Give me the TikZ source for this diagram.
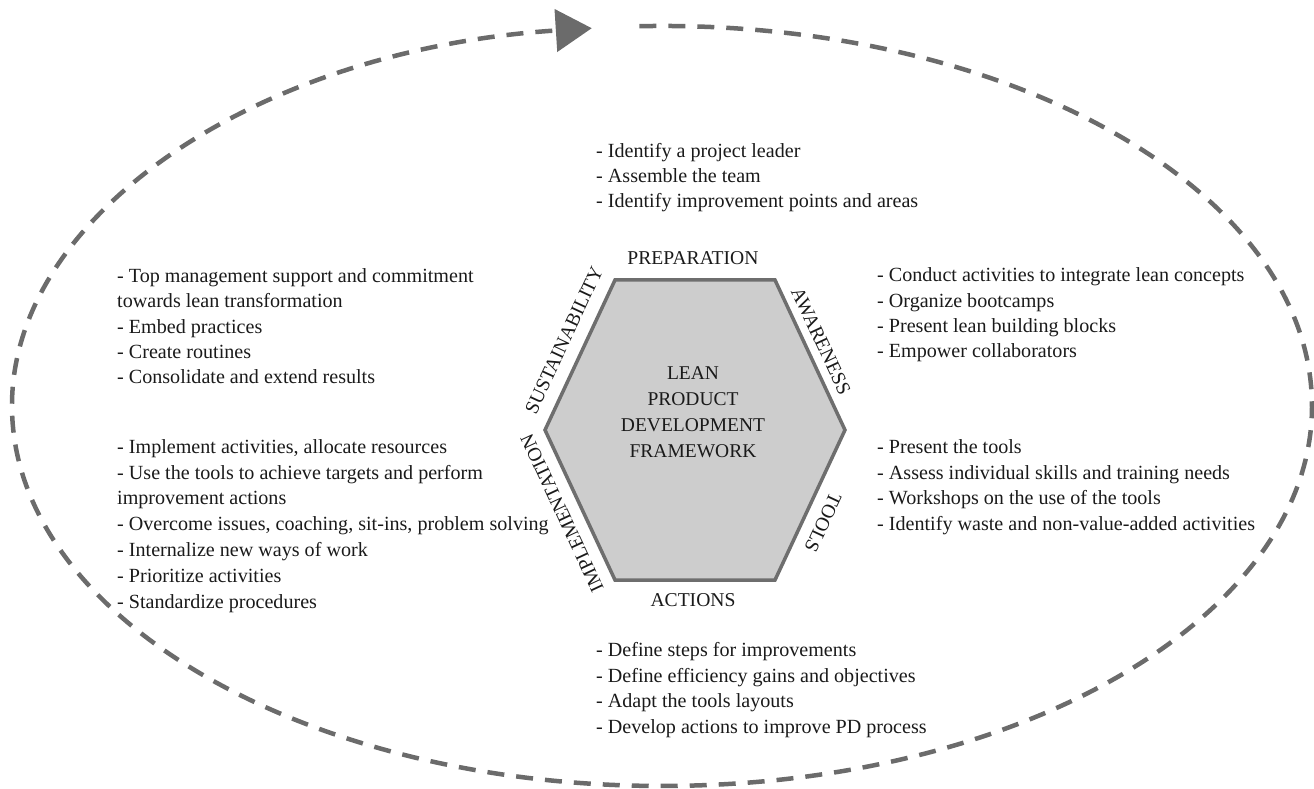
\documentclass[tikz,border=0pt]{standalone}
\usepackage{fontspec}
\setmainfont{Liberation Serif}
\usetikzlibrary{arrows.meta}
\definecolor{ringgray}{HTML}{6B6B6B}
\definecolor{hexfill}{HTML}{CDCDCD}
\definecolor{hexedge}{HTML}{6E6E6E}
\definecolor{ink}{HTML}{1A1A1A}
\tikzset{
  ring/.style={draw=ringgray, line width=4.5pt, dash pattern=on 17pt off 12pt},
  ringtip/.style={-{Triangle[length=36pt,width=42pt,fill=ringgray,color=ringgray]}},
  hexbody/.style={fill=hexfill, draw=hexedge, line width=3.5pt, line join=miter},
  % lists are placed by the baseline of their last line
  bodytext/.style={font=\fontsize{20.1}{25.4}\selectfont, align=left, inner sep=0pt,
    anchor=base west, text=ink},
  hexlabel/.style={font=\fontsize{19.6}{22}\selectfont, inner sep=0pt, text=ink},
  hubtext/.style={font=\fontsize{19.5}{26}\selectfont, align=center, inner sep=0pt, text=ink}
}
\begin{document}
\begin{tikzpicture}[x=1pt,y=1pt]
\useasboundingbox (0,0) rectangle (1314,788);

% dashed cycle around the framework, running clockwise to the arrow at the top
\coordinate (ringstart) at (639.3,761.8);
\draw[ring, ringtip] (ringstart)
  arc[start angle=92, end angle=-263.8, x radius=650, y radius=380];

% hexagon corners
\coordinate (hl)  at (545,358);
\coordinate (htl) at (615,508);
\coordinate (htr) at (775,508);
\coordinate (hr)  at (845,358);
\coordinate (hbr) at (775,208);
\coordinate (hbl) at (615,208);
\draw[hexbody] (hl) -- (htl) -- (htr) -- (hr) -- (hbr) -- (hbl) -- cycle;

\node[hubtext] (hub) at (693,375.5) {LEAN\\PRODUCT\\DEVELOPMENT\\FRAMEWORK};

% phase names along the hexagon sides
\node[hexlabel] (prep) at (693,530) {PREPARATION};
\node[hexlabel] (act)  at (693,188) {ACTIONS};
\node[hexlabel, rotate=-65]  (awa)  at (821,447) {AWARENESS};
\node[hexlabel, rotate=-115] (tool) at (823,265) {TOOLS};
\node[hexlabel, rotate=65]   (sus)  at (564,448) {SUSTAINABILITY};
\node[hexlabel, rotate=115]  (impl) at (562,275) {IMPLEMENTATION};

% activity lists
\node[bodytext] (prepitems) at (596,580) {- Identify a project leader\\- Assemble the team\\- Identify improvement points and areas};
\node[bodytext] (awaitems) at (877,430) {- Conduct activities to integrate lean concepts\\- Organize bootcamps\\- Present lean building blocks\\- Empower collaborators};
\node[bodytext] (toolitems) at (877,258) {- Present the tools\\- Assess individual skills and training needs\\- Workshops on the use of the tools\\- Identify waste and non-value-added activities};
\node[bodytext] (actitems) at (596,55) {- Define steps for improvements\\- Define efficiency gains and objectives\\- Adapt the tools layouts\\- Develop actions to improve PD process};
\node[bodytext, font=\fontsize{20.1}{25.8}\selectfont] (implitems) at (117,180) {- Implement activities, allocate resources\\- Use the tools to achieve targets and perform\\improvement actions\\- Overcome issues, coaching, sit-ins, problem solving\\- Internalize new ways of work\\- Prioritize activities\\- Standardize procedures};
\node[bodytext] (susitems) at (117,404) {- Top management support and commitment\\towards lean transformation\\- Embed practices\\- Create routines\\- Consolidate and extend results};
\end{tikzpicture}
\end{document}
